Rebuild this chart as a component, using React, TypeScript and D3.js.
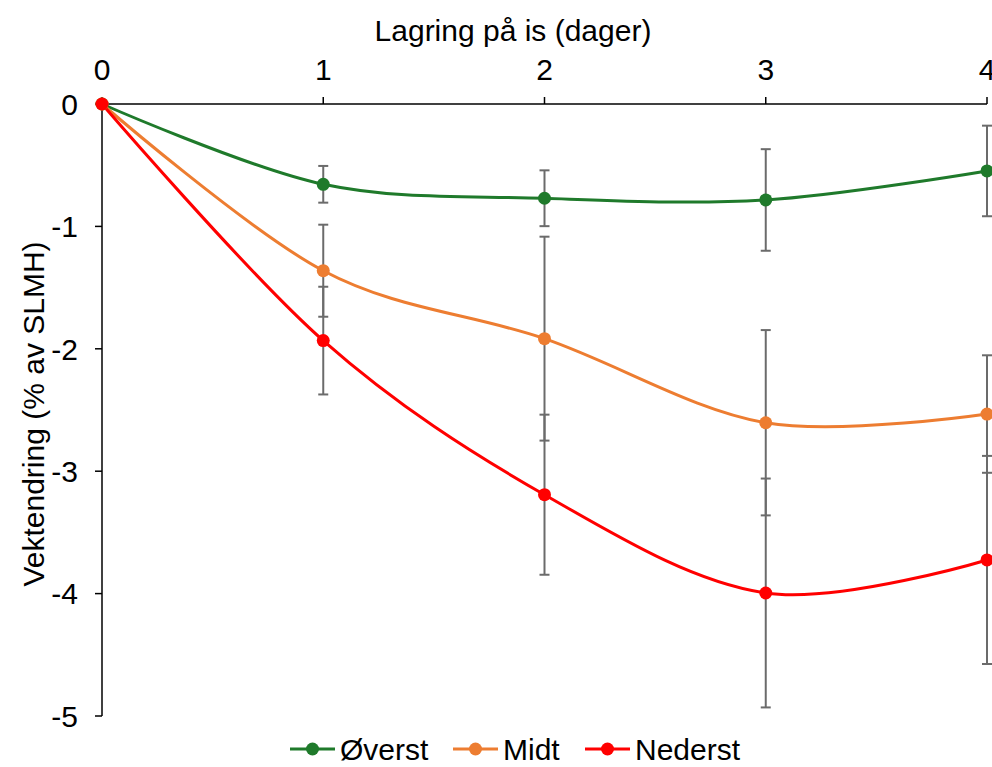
import * as d3 from "d3";
import * as React from "react";

const days = [0, 1, 2, 3, 4];
const yTicks = [0, -1, -2, -3, -4, -5];

const seriesNames = ["Øverst", "Midt", "Nederst"];
const seriesColors = ["#1f7a2b", "#ed7d31", "#ff0000"];

// mean weight change per day
const overst = [0, -0.656, -0.77, -0.784, -0.547];
const midt = [0, -1.362, -1.917, -2.604, -2.533];
const nederst = [0, -1.933, -3.192, -3.995, -3.725];

// error (± value), none at day 0
const overstErr = [0, 0.15, 0.228, 0.415, 0.37];
const midtErr = [0, 0.376, 0.833, 0.757, 0.48];
const nederstErr = [0, 0.44, 0.654, 0.935, 0.85];

const values = [overst, midt, nederst];
const errors = [overstErr, midtErr, nederstErr];

const W = 992;
const H = 767;
const font = "'Liberation Sans', Arial, sans-serif";
const fs = 30;

export default function App() {
  const x = d3.scaleLinear().domain([0, 4]).range([102, 987]);
  const y = d3.scaleLinear().domain([-5, 0]).range([716, 104]);

  const line = d3
    .line<number>()
    .x((_, i) => x(days[i]))
    .y((d) => y(d))
    .curve(d3.curveCardinal.tension(0));

  const legendX = [290, 453, 585];

  return (
    <svg
      width={W}
      height={H}
      style={{ position: "absolute", left: 0, top: 0, background: "#fff" }}
      fontFamily={font}
    >
      {/* axes */}
      <line x1={x(0)} x2={x(4)} y1={y(0)} y2={y(0)} stroke="#000" strokeWidth={1.5} />
      <line x1={x(0)} x2={x(0)} y1={y(0)} y2={y(-5)} stroke="#000" strokeWidth={1.5} />
      {days.map((d) => (
        <g key={"xt" + d}>
          <line x1={x(d)} x2={x(d)} y1={y(0) - 7} y2={y(0)} stroke="#000" strokeWidth={1.5} />
          <text x={x(d)} y={80} fontSize={fs} textAnchor="middle">
            {d}
          </text>
        </g>
      ))}
      {yTicks.map((t) => (
        <g key={"yt" + t}>
          <line x1={x(0) - 7} x2={x(0)} y1={y(t)} y2={y(t)} stroke="#000" strokeWidth={1.5} />
          <text x={78} y={y(t)} dy="0.36em" fontSize={fs} textAnchor="end">
            {t}
          </text>
        </g>
      ))}
      <text x={513} y={41} fontSize={fs} textAnchor="middle">
        Lagring på is (dager)
      </text>
      <text
        transform={`translate(44, 414) rotate(-90)`}
        fontSize={fs}
        textAnchor="middle"
      >
        Vektendring (% av SLMH)
      </text>

      {/* error bars */}
      {values.map((vals, si) =>
        vals.map((v, i) => {
          const e = errors[si][i];
          if (!e) return null;
          const cx = x(days[i]);
          const y1 = y(v + e);
          const y2 = y(v - e);
          return (
            <g key={`e${si}-${i}`} stroke="#6b6b6b" strokeWidth={2}>
              <line x1={cx} x2={cx} y1={y1} y2={y2} />
              <line x1={cx - 5} x2={cx + 5} y1={y1} y2={y1} />
              <line x1={cx - 5} x2={cx + 5} y1={y2} y2={y2} />
            </g>
          );
        })
      )}

      {/* lines */}
      {values.map((vals, si) => (
        <path
          key={"l" + si}
          d={line(vals) || ""}
          fill="none"
          stroke={seriesColors[si]}
          strokeWidth={3}
        />
      ))}
      {values.map((vals, si) =>
        vals.map((v, i) => (
          <circle
            key={`m${si}-${i}`}
            cx={x(days[i])}
            cy={y(v)}
            r={6.5}
            fill={seriesColors[si]}
          />
        ))
      )}

      {/* legend */}
      {seriesNames.map((name, si) => (
        <g key={"lg" + si} transform={`translate(${legendX[si]}, 749)`}>
          <line x1={0} x2={45} y1={0} y2={0} stroke={seriesColors[si]} strokeWidth={3} />
          <circle cx={22.5} cy={0} r={6.5} fill={seriesColors[si]} />
          <text x={50} y={0} dy="0.36em" fontSize={fs}>
            {name}
          </text>
        </g>
      ))}
    </svg>
  );
}
